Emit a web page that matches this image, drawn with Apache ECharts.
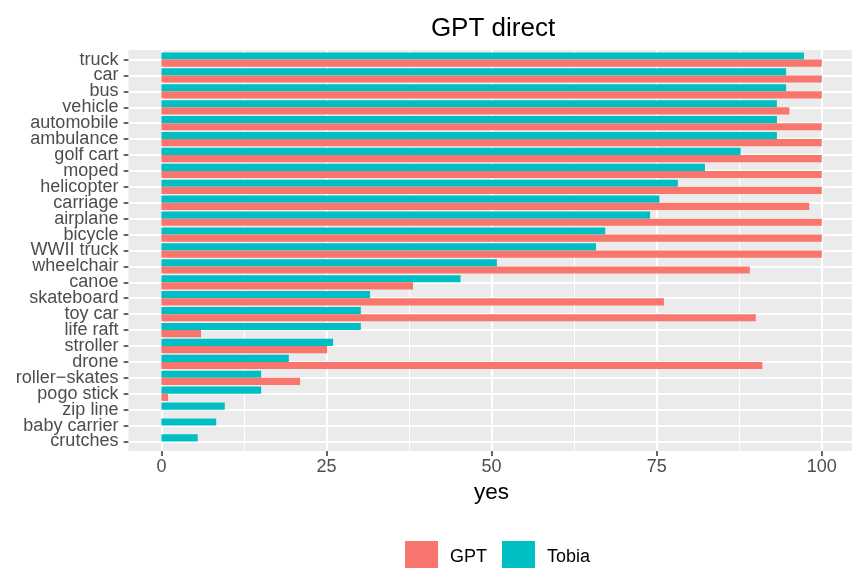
<!DOCTYPE html>
<html>
<head>
<meta charset="utf-8">
<title>GPT direct</title>
<script src="https://cdn.jsdelivr.net/npm/echarts@6/dist/echarts.min.js"></script>
<style>
  html, body { margin: 0; padding: 0; background: #fff; }
  #chart { width: 852px; height: 568px; }
</style>
</head>
<body>
<div id="chart"></div>
<script>
// data (top to bottom)
const categories = ['truck', 'car', 'bus', 'vehicle', 'automobile', 'ambulance', 'golf cart', 'moped',
  'helicopter', 'carriage', 'airplane', 'bicycle', 'WWII truck', 'wheelchair', 'canoe', 'skateboard',
  'toy car', 'life raft', 'stroller', 'drone', 'roller\u2212skates', 'pogo stick', 'zip line',
  'baby carrier', 'crutches']
const gptValues = [100, 100, 100, 95.1, 100, 100, 100, 100, 100, 98.1, 100, 100, 100, 89.1, 38.1, 76.1,
  90.0, 6.0, 25.1, 91.0, 21.0, 1.0, 0, 0, 0]
const tobiaValues = [97.3, 94.6, 94.6, 93.2, 93.2, 93.2, 87.7, 82.3, 78.2, 75.4, 74.0, 67.2, 65.8, 50.8,
  45.3, 31.6, 30.2, 30.2, 26.0, 19.3, 15.1, 15.1, 9.6, 8.3, 5.5]
const xTicks = [0, 25, 50, 75, 100]

const font = "'Liberation Sans', Arial, Helvetica, sans-serif"
const gptColor = '#F8766D'
const tobiaColor = '#00BFC4'

// panel geometry (ggplot-like: 0.6 category expansion, 5% on x)
const panelTop = 50
const panelBottom = 451
const panelLeft = 128.4
const step = (panelBottom - panelTop) / (categories.length + 0.2)
const zeroX = 161.4
const hundredX = 821.8
const W = 852

const chart = echarts.init(document.getElementById('chart'), null, { renderer: 'canvas' })

const option = {
  animation: false,
  backgroundColor: '#fff',
  textStyle: { fontFamily: font },
  title: {
    text: 'GPT direct',
    left: 488,
    textAlign: 'center',
    top: 11,
    textStyle: { fontFamily: font, fontSize: 26, fontWeight: 'normal', color: '#000' }
  },
  legend: {
    data: ['GPT', 'Tobia'],
    left: 400,
    top: 536,
    icon: 'rect',
    itemWidth: 33,
    itemHeight: 33,
    itemGap: 15,
    selectedMode: false,
    textStyle: { fontFamily: font, fontSize: 18, color: '#000', padding: [0, 0, 0, 7] }
  },
  grid: [
    // 0: grey panel
    { left: panelLeft, right: 0, top: panelTop, height: panelBottom - panelTop,
      show: true, backgroundColor: '#EBEBEB', borderWidth: 0 },
    // 1: horizontal grid lines + category labels
    { left: panelLeft, right: 0, top: panelTop + 0.6 * step, height: (categories.length - 1) * step },
    // 2: bars
    { left: zeroX, right: W - hundredX, top: panelTop + 0.1 * step, height: categories.length * step },
    // 3: x axis, vertical grid lines
    { left: zeroX, right: W - hundredX, top: panelTop, height: panelBottom - panelTop }
  ],
  xAxis: [
    { gridIndex: 0, type: 'value', show: false },
    { gridIndex: 1, type: 'value', show: false },
    { gridIndex: 2, type: 'value', min: 0, max: 100, show: false },
    {
      gridIndex: 3, type: 'value', min: xTicks[0], max: xTicks[xTicks.length - 1], interval: 25,
      name: 'yes', nameLocation: 'middle', nameGap: 30,
      nameTextStyle: { fontFamily: font, fontSize: 22.5, color: '#000' },
      axisLine: { show: false },
      axisTick: { show: true, length: 5, lineStyle: { color: '#333', width: 1.5 } },
      axisLabel: { fontFamily: font, fontSize: 18, color: '#4D4D4D', margin: 7 },
      splitLine: { show: true, lineStyle: { color: '#fff', width: 2 } },
      minorTick: { show: false, splitNumber: 2 },
      minorSplitLine: { show: true, lineStyle: { color: '#fff', width: 1 } }
    }
  ],
  yAxis: [
    { gridIndex: 0, type: 'value', show: false },
    {
      gridIndex: 1, type: 'category', data: categories, inverse: true, boundaryGap: false,
      axisLine: { show: false },
      axisTick: { show: true, length: 4.7, interval: 0, lineStyle: { color: '#333', width: 1.5 } },
      axisLabel: { interval: 0, fontFamily: font, fontSize: 18, color: '#4D4D4D', margin: 10 },
      splitLine: { show: true, interval: 0, lineStyle: { color: '#fff', width: 2 } }
    },
    { gridIndex: 2, type: 'category', data: categories, inverse: true, show: false },
    { gridIndex: 3, type: 'value', show: false }
  ],
  series: [
    {
      name: 'Tobia', type: 'bar', xAxisIndex: 2, yAxisIndex: 2,
      data: tobiaValues, barGap: '0%', barCategoryGap: '10%',
      itemStyle: { color: tobiaColor }
    },
    {
      name: 'GPT', type: 'bar', xAxisIndex: 2, yAxisIndex: 2,
      data: gptValues, barGap: '0%', barCategoryGap: '10%',
      itemStyle: { color: gptColor }
    }
  ]
}

chart.setOption(option)
</script>
</body>
</html>
